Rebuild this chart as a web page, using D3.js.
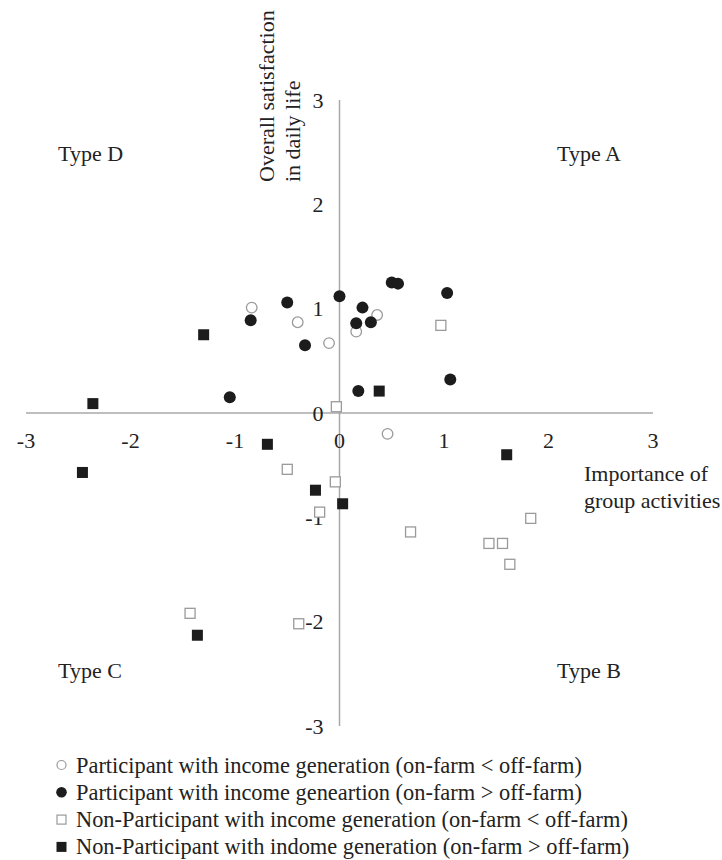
<!DOCTYPE html>
<html>
<head>
<meta charset="utf-8">
<script src="https://cdn.jsdelivr.net/npm/d3@7"></script>
<style>
  html, body { margin: 0; padding: 0; background: #fff; }
  text { font-family: "Liberation Serif", "Times New Roman", serif; fill: #222; }
</style>
</head>
<body>
<svg id="chart" width="722" height="860"></svg>
<script>
// ---- Data ----
const xTicks = [-3, -2, -1, 0, 1, 2, 3];
const yTicks = [-3, -2, -1, 0, 1, 2, 3];

const participantLow = [ // open circles
  [-0.84, 1.01], [-0.40, 0.87], [-0.10, 0.67], [0.36, 0.94], [0.16, 0.78], [0.46, -0.20]
];
const participantHigh = [ // filled circles
  [-1.05, 0.15], [-0.85, 0.89], [-0.50, 1.06], [-0.33, 0.65], [0.00, 1.12],
  [0.18, 0.21], [0.22, 1.01], [0.16, 0.86], [0.30, 0.87], [0.50, 1.25],
  [0.56, 1.24], [1.03, 1.15], [1.06, 0.32]
];
const nonParticipantLow = [ // open squares
  [-0.03, 0.06], [0.97, 0.84], [-0.50, -0.54], [-0.04, -0.66], [-0.19, -0.95],
  [-1.43, -1.92], [-0.39, -2.02], [1.83, -1.01], [0.68, -1.14], [1.43, -1.25],
  [1.56, -1.25], [1.63, -1.45]
];
const nonParticipantHigh = [ // filled squares
  [-2.36, 0.09], [-1.30, 0.75], [0.38, 0.21], [-0.69, -0.30], [-2.46, -0.57],
  [-0.23, -0.74], [0.03, -0.87], [-1.36, -2.13], [1.60, -0.40]
];

const legendLabels = [
  "Participant with income generation (on-farm < off-farm)",
  "Participant with income geneartion (on-farm > off-farm)",
  "Non-Participant with income generation (on-farm < off-farm)",
  "Non-Participant with indome generation (on-farm > off-farm)"
];
const quadrantLabels = ["Type A", "Type B", "Type C", "Type D"];
const xTitle = ["Importance of", "group activities"];
const yTitle = ["Overall satisfaction", "in daily life"];

// ---- Drawing ----
const svg = d3.select("#chart");
const x = d3.scaleLinear().domain([-3, 3]).range([26, 653]);
const y = d3.scaleLinear().domain([-3, 3]).range([726, 100]);
const FS = 22;
const gray = "#a8a8a8";
const dark = "#1c1c1c";
const openStroke = "#9a9a9a";

// axes lines
svg.append("line").attr("x1", x(-3)).attr("x2", x(3)).attr("y1", y(0)).attr("y2", y(0))
  .attr("stroke", gray).attr("stroke-width", 1.5);
svg.append("line").attr("x1", x(0)).attr("x2", x(0)).attr("y1", y(3)).attr("y2", y(-3))
  .attr("stroke", gray).attr("stroke-width", 1.5);

// tick labels
svg.selectAll(".xt").data(xTicks).enter().append("text")
  .attr("x", d => x(d)).attr("y", y(0) + 35)
  .attr("text-anchor", "middle").attr("font-size", FS)
  .text(d => d);
svg.selectAll(".yt").data(yTicks).enter().append("text")
  .attr("x", x(0) - 16).attr("y", d => y(d) + 7.5)
  .attr("text-anchor", "end").attr("font-size", FS)
  .text(d => d);

// axis titles
svg.selectAll(".xtitle").data(xTitle).enter().append("text")
  .attr("x", 584).attr("y", (d, i) => 481 + i * 27)
  .attr("font-size", FS).text(d => d);
svg.selectAll(".ytitle").data(yTitle).enter().append("text")
  .attr("transform", (d, i) => `translate(${274 + i * 26},182) rotate(-90)`)
  .attr("font-size", FS).text(d => d);

// quadrant labels
const qPos = {"Type A": [557, 161], "Type B": [557, 678], "Type C": [58, 678], "Type D": [58, 161]};
svg.selectAll(".q").data(quadrantLabels).enter().append("text")
  .attr("x", d => qPos[d][0]).attr("y", d => qPos[d][1])
  .attr("font-size", FS).text(d => d);

// marks
const g = svg.append("g");
g.selectAll(".os").data(nonParticipantLow).enter().append("rect")
  .attr("x", d => x(d[0]) - 5).attr("y", d => y(d[1]) - 5)
  .attr("width", 10).attr("height", 10)
  .attr("fill", "#fff").attr("stroke", openStroke).attr("stroke-width", 1.3);
g.selectAll(".fs").data(nonParticipantHigh).enter().append("rect")
  .attr("x", d => x(d[0]) - 5.5).attr("y", d => y(d[1]) - 5.5)
  .attr("width", 11).attr("height", 11)
  .attr("fill", dark);
g.selectAll(".oc").data(participantLow).enter().append("circle")
  .attr("cx", d => x(d[0])).attr("cy", d => y(d[1])).attr("r", 5.3)
  .attr("fill", "#fff").attr("stroke", openStroke).attr("stroke-width", 1.3);
g.selectAll(".fc").data(participantHigh).enter().append("circle")
  .attr("cx", d => x(d[0])).attr("cy", d => y(d[1])).attr("r", 6)
  .attr("fill", dark);

// legend
const leg = svg.append("g");
const ly0 = 772.5, ldy = 27.3, lmx = 61.5;
legendLabels.forEach((lab, i) => {
  const cy = ly0 + i * ldy - 7.5;
  if (i === 0) leg.append("circle").attr("cx", lmx).attr("cy", cy).attr("r", 4.5)
    .attr("fill", "#fff").attr("stroke", openStroke).attr("stroke-width", 1.2);
  if (i === 1) leg.append("circle").attr("cx", lmx).attr("cy", cy).attr("r", 5.3)
    .attr("fill", dark);
  if (i === 2) leg.append("rect").attr("x", lmx - 4.5).attr("y", cy - 4.5)
    .attr("width", 9).attr("height", 9)
    .attr("fill", "#fff").attr("stroke", openStroke).attr("stroke-width", 1.2);
  if (i === 3) leg.append("rect").attr("x", lmx - 5).attr("y", cy - 5)
    .attr("width", 10).attr("height", 10).attr("fill", dark);
  leg.append("text").attr("x", 76).attr("y", ly0 + i * ldy)
    .attr("font-size", 22.4).text(lab);
});
</script>
</body>
</html>
